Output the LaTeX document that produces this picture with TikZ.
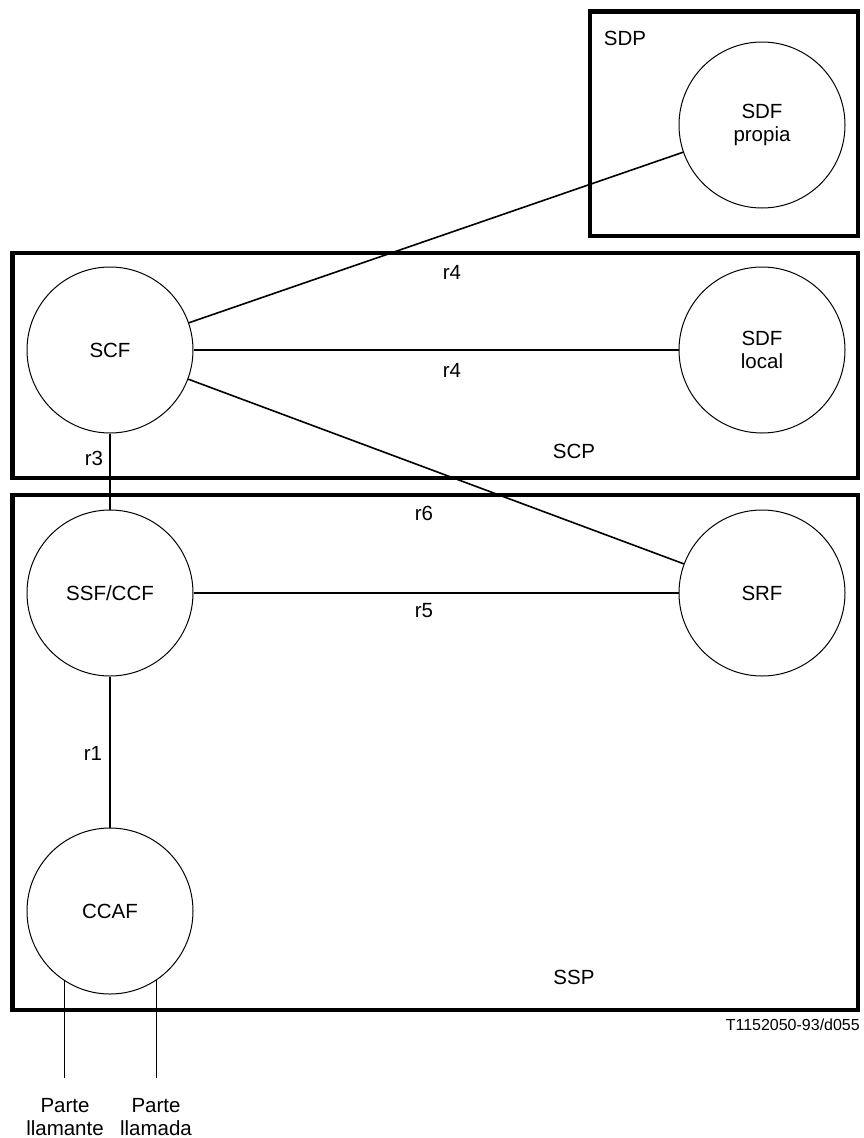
\documentclass[tikz,border=0pt]{standalone}
\usepackage{fontspec}
\setmainfont{Liberation Sans}
\begin{document}
\begin{tikzpicture}[x=1pt,y=-1pt,
  box/.style={line width=4.5pt},
  func/.style={circle,draw,line width=1pt,minimum size=166pt,inner sep=0pt,align=center,
    font=\fontsize{20.5}{23}\selectfont},
  lbl/.style={anchor=base,inner sep=0pt,font=\fontsize{20.5}{23}\selectfont},
  conn/.style={line width=1.6pt},
  tag/.style={anchor=base east,inner sep=0pt,font=\fontsize{16}{18}\selectfont}]
\useasboundingbox (0,0) rectangle (864,1138);
% boxes
\draw[box] (590,11.5) rectangle (858,236);
\draw[box] (12.5,253) rectangle (858,478);
\draw[box] (12.5,495) rectangle (858,1010);
% functions
\node[func] (SDFp) at (762,125) {SDF\\propia};
\node[func] (SCF) at (110,350) {SCF};
\node[func] (SDFl) at (762,350) {SDF\\local};
\node[func] (SSF) at (110,593) {SSF/CCF};
\node[func] (SRF) at (762,593) {SRF};
\node[func] (CCAF) at (110,911) {CCAF};
% connectors
\draw[conn] (SCF) -- (SDFp);
\draw[conn] (SCF) -- (SDFl);
\draw[conn] (SCF) -- (SRF);
\draw[conn] (SSF) -- (SRF);
\draw[conn] (SCF.south) -- (SSF.north);
\draw[conn] (SSF.south) -- (CCAF.north);
\coordinate (pl1) at (65,1078);
\coordinate (pl2) at (156,1078);
\draw[conn] (CCAF.237) -- (CCAF.237 |- pl1);
\draw[conn] (CCAF.304) -- (CCAF.304 |- pl2);
% labels
\node[lbl] (lSDP) at (625,45) {SDP};
\node[lbl] (lr4a) at (452,279) {r4};
\node[lbl] (lr4b) at (452,377) {r4};
\node[lbl] (lSCP) at (574,458) {SCP};
\node[lbl] (lr3) at (94,465) {r3};
\node[lbl] (lr6) at (424,520) {r6};
\node[lbl] (lr5) at (424,617) {r5};
\node[lbl] (lr1) at (93,760) {r1};
\node[lbl] (lSSP) at (574,984) {SSP};
\node[tag] (ltag) at (860,1030) {T1152050-93/d055};
\node[lbl,align=center] (lp1) at (65,1135) {Parte\\llamante};
\node[lbl,align=center] (lp2) at (156,1135) {Parte\\llamada};
\end{tikzpicture}
\end{document}
